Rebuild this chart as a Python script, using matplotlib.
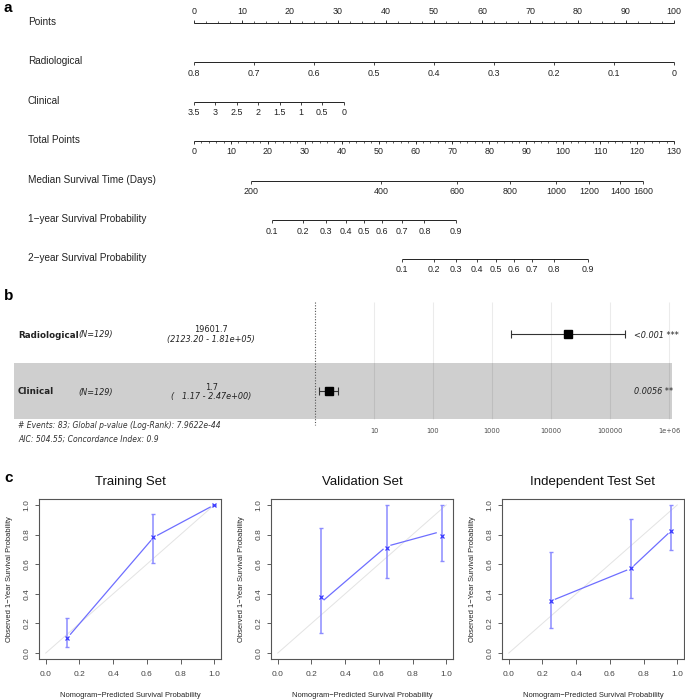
import numpy as np
import matplotlib
matplotlib.use("Agg")
import matplotlib.pyplot as plt
from matplotlib.patches import Rectangle

plt.rcParams['font.family'] = ['Liberation Sans', 'DejaVu Sans']

# ---------------- Data: nomogram (panel a) ----------------
row_labels = ["Points", "Radiological", "Clinical", "Total Points",
              "Median Survival Time (Days)",
              "1\u2212year Survival Probability",
              "2\u2212year Survival Probability"]

points_ticks = [0, 10, 20, 30, 40, 50, 60, 70, 80, 90, 100]

radiological_labels = ["0.8", "0.7", "0.6", "0.5", "0.4", "0.3", "0.2", "0.1", "0"]
radiological_points = [0, 12.5, 25, 37.5, 50, 62.5, 75, 87.5, 100]

clinical_labels = ["3.5", "3", "2.5", "2", "1.5", "1", "0.5", "0"]
clinical_points = [0, 4.46, 8.91, 13.37, 17.83, 22.29, 26.74, 31.2]

total_ticks = [0, 10, 20, 30, 40, 50, 60, 70, 80, 90, 100, 110, 120, 130]
total_max = 130

median_labels = ["200", "400", "600", "800", "1000", "1200", "1400", "1600"]
median_total = [15.4, 50.6, 71.2, 85.6, 98.0, 107.0, 115.4, 121.6]

surv_labels = ["0.1", "0.2", "0.3", "0.4", "0.5", "0.6", "0.7", "0.8", "0.9"]
surv1_total = [21.0, 29.6, 35.8, 41.1, 46.0, 50.9, 56.2, 62.4, 71.0]
surv2_total = [56.3, 64.9, 71.0, 76.7, 81.8, 86.7, 91.5, 97.5, 106.7]

# ---------------- Data: forest plot (panel b) ----------------
forest_vars = ["Radiological", "Clinical"]
forest_n = ["(N=129)", "(N=129)"]
forest_hr = [19601.7, 1.7]
forest_lo = [2123.20, 1.17]
forest_hi = [1.81e5, 2.47]
forest_hr_txt = ["19601.7", "1.7"]
forest_ci_txt = ["(2123.20 - 1.81e+05)", "(   1.17 - 2.47e+00)"]
forest_p_txt = ["<0.001 ***", "0.0056 **"]
forest_ticks = [10, 100, 1000, 10000, 100000, 1e6]
forest_tick_labels = ["10", "100", "1000", "10000", "100000", "1e+06"]
forest_note1 = "# Events: 83; Global p-value (Log-Rank): 7.9622e-44"
forest_note2 = "AIC: 504.55; Concordance Index: 0.9"

# ---------------- Data: calibration (panel c) ----------------
cal_titles = ["Training Set", "Validation Set", "Independent Test Set"]
cal_line_x = [[0.13, 0.64, 1.0], [0.255, 0.645, 0.967], [0.251, 0.725, 0.964]]
cal_line_y = [[0.105, 0.781, 1.0], [0.34, 0.72, 0.82], [0.352, 0.571, 0.826]]
cal_pt_x = [[0.129, 0.639, 0.996], [0.257, 0.647, 0.972], [0.251, 0.725, 0.964]]
cal_pt_y = [[0.105, 0.781, 1.0], [0.38, 0.71, 0.788], [0.352, 0.571, 0.826]]
cal_lo = [[0.038, 0.61, 1.0], [0.134, 0.509, 0.62], [0.167, 0.372, 0.694]]
cal_hi = [[0.24, 0.942, 1.0], [0.844, 1.0, 1.0], [0.683, 0.906, 1.0]]
cal_ticks = [0.0, 0.2, 0.4, 0.6, 0.8, 1.0]

# ---------------- Figure ----------------
W, H = 685, 699
fig = plt.figure(figsize=(W / 100, H / 100), dpi=100)


def fy(py):
    return 1 - py / H


# ---- panel a: nomogram ----
PX0, PXPP = 194.0, 4.8  # pixel of 0 points, pixels per point
axA = fig.add_axes([0, fy(290), 1, 290 / H])
axA.set_xlim(-PX0 / PXPP, (W - PX0) / PXPP)
axA.set_ylim(290, 0)
axA.axis('off')

row_y = [23, 62, 101.5, 141, 181, 220, 259]
lc = '#222222'
tick_fs = 6.4


def draw_row(y, pos, labels, above=False, minor=None):
    axA.plot([min(pos), max(pos)], [y, y], color=lc, lw=0.7, solid_capstyle='butt')
    d = -1 if above else 1
    axA.vlines(pos, y, y + d * 3.2, color=lc, lw=0.6)
    if minor is not None:
        axA.vlines(minor, y, y + d * 2.0, color=lc, lw=0.5)
    for p, l in zip(pos, labels):
        axA.text(p, y + d * 11, l, ha='center', va='center', fontsize=tick_fs, color='#222222')


for y, lab in zip(row_y, row_labels):
    axA.text(-PX0 / PXPP + 28 / PXPP, y - 1, lab, ha='left', va='center', fontsize=7.2, color='#222222')

draw_row(row_y[0], points_ticks, [str(v) for v in points_ticks], above=True,
         minor=np.arange(0, 100.01, 2.5))
draw_row(row_y[1], radiological_points, radiological_labels)
draw_row(row_y[2], clinical_points, clinical_labels)
scale = 100.0 / total_max
draw_row(row_y[3], [t * scale for t in total_ticks], [str(v) for v in total_ticks],
         minor=np.arange(0, total_max + 0.01, 2) * scale)
draw_row(row_y[4], [t * scale for t in median_total], median_labels)
draw_row(row_y[5], [t * scale for t in surv1_total], surv_labels)
draw_row(row_y[6], [t * scale for t in surv2_total], surv_labels)

# ---- panel b: forest plot ----
FX0, FDEC = 315.0, 59.0  # pixel of HR=1, pixels per decade
axB = fig.add_axes([0, fy(450), 1, (450 - 296) / H])
axB.set_xlim(-FX0 / FDEC, (W - FX0) / FDEC)
axB.set_ylim(450, 296)
axB.axis('off')


def lx(px):
    return (px - FX0) / FDEC


axB.add_patch(Rectangle((lx(14), 363), lx(672) - lx(14), 56, facecolor='#CFCFCF',
                        edgecolor='none', zorder=0))
for t in forest_ticks:
    axB.vlines(np.log10(t), 302, 419, color='black', alpha=0.08, lw=0.8, zorder=1)
axB.vlines(0, 302, 425, color='#555555', lw=0.8, linestyles=(0, (1, 1.5)), zorder=2)
for t, tl in zip(forest_ticks, forest_tick_labels):
    axB.text(np.log10(t), 431, tl, ha='center', va='center', fontsize=4.8,
             color='#4D4D4D', family='DejaVu Sans')

forest_y = [334, 391]
for i in range(len(forest_vars)):
    y = forest_y[i]
    c = np.log10(forest_hr[i])
    lo = np.log10(forest_lo[i])
    hi = np.log10(forest_hi[i])
    axB.errorbar([c], [y], xerr=[[c - lo], [hi - c]], fmt='s', color='black', ms=5.6,
                 ecolor='#333333', elinewidth=0.8, capsize=3.2, capthick=0.8, zorder=3)
    axB.text(lx(18), y + 1, forest_vars[i], ha='left', va='center', fontsize=6.3,
             fontweight='bold', family='DejaVu Sans', color='#222222')
    axB.text(lx(78), y + 1, forest_n[i], ha='left', va='center', fontsize=5.9,
             style='italic', family='DejaVu Sans', color='#222222')
    axB.text(lx(211), y - 4, forest_hr_txt[i], ha='center', va='center', fontsize=5.9,
             family='DejaVu Sans', color='#222222')
    axB.text(lx(211), y + 5.5, forest_ci_txt[i], ha='center', va='center', fontsize=5.9,
             style='italic', family='DejaVu Sans', color='#222222')
    axB.text(lx(634), y + 1, forest_p_txt[i], ha='left', va='center', fontsize=5.9,
             style='italic', family='DejaVu Sans', color='#222222')

axB.text(lx(18), 426, forest_note1, ha='left', va='center', fontsize=5.5,
         style='italic', family='DejaVu Sans', color='#333333')
axB.text(lx(18), 439, forest_note2, ha='left', va='center', fontsize=5.5,
         style='italic', family='DejaVu Sans', color='#333333')

# ---- panel c: calibration ----
box_left = [39, 271, 502]
box_w, box_top, box_bot = 182, 499, 659
line_col = '#6E6EFF'
bar_col = '#8C8CFF'
pt_col = '#3A3AFF'

for k in range(3):
    ax = fig.add_axes([box_left[k] / W, fy(box_bot), box_w / W, (box_bot - box_top) / H])
    ax.set_xlim(-0.04, 1.04)
    ax.set_ylim(-0.04, 1.04)
    ax.plot([0, 1], [0, 1], color='#E3E3E3', lw=0.7, zorder=1)
    xs, ys = np.array(cal_line_x[k]), np.array(cal_line_y[k])
    gap = 0.028
    for i in range(len(xs) - 1):
        p0 = np.array([xs[i], ys[i]])
        p1 = np.array([xs[i + 1], ys[i + 1]])
        u = (p1 - p0) / np.hypot(*(p1 - p0))
        a, b = p0 + u * gap, p1 - u * gap
        ax.plot([a[0], b[0]], [a[1], b[1]], color=line_col, lw=0.9, zorder=2)
    px_, py_ = np.array(cal_pt_x[k]), np.array(cal_pt_y[k])
    lo, hi = np.array(cal_lo[k]), np.array(cal_hi[k])
    ax.errorbar(px_, py_, yerr=[py_ - lo, hi - py_], fmt='none', ecolor=bar_col,
                elinewidth=1.1, capsize=1.3, capthick=1.0, zorder=3)
    ax.plot(px_, py_, linestyle='none', marker='x', ms=3.5, mew=0.9, color=pt_col, zorder=4)
    for s in ax.spines.values():
        s.set_color('#555555')
        s.set_linewidth(0.8)
    ax.set_xticks(cal_ticks)
    ax.set_yticks(cal_ticks)
    ax.set_xticklabels(["%.1f" % v for v in cal_ticks], fontsize=6)
    ax.set_yticklabels(["%.1f" % v for v in cal_ticks], fontsize=6, rotation=90, va='center')
    ax.tick_params(axis='x', direction='out', length=3.5, width=0.6, colors='#444444', pad=5.5)
    ax.tick_params(axis='y', direction='out', length=3, width=0.6, colors='#444444', pad=3)
    ax.set_title(cal_titles[k], fontsize=9.5, pad=10, color='#111111')
    ax.set_xlabel("Nomogram\u2212Predicted Survival Probability", fontsize=5.4, labelpad=10, color='#222222')
    ax.set_ylabel("Observed 1\u2212Year Survival Probability", fontsize=5.4, labelpad=8, color='#222222')

# ---- panel letters ----
for lab, y in zip(["a", "b", "c"], [8, 296, 478]):
    fig.text(4 / W, fy(y), lab, ha='left', va='center', fontsize=11, fontweight='bold')

fig.savefig("out.png", dpi=100)
